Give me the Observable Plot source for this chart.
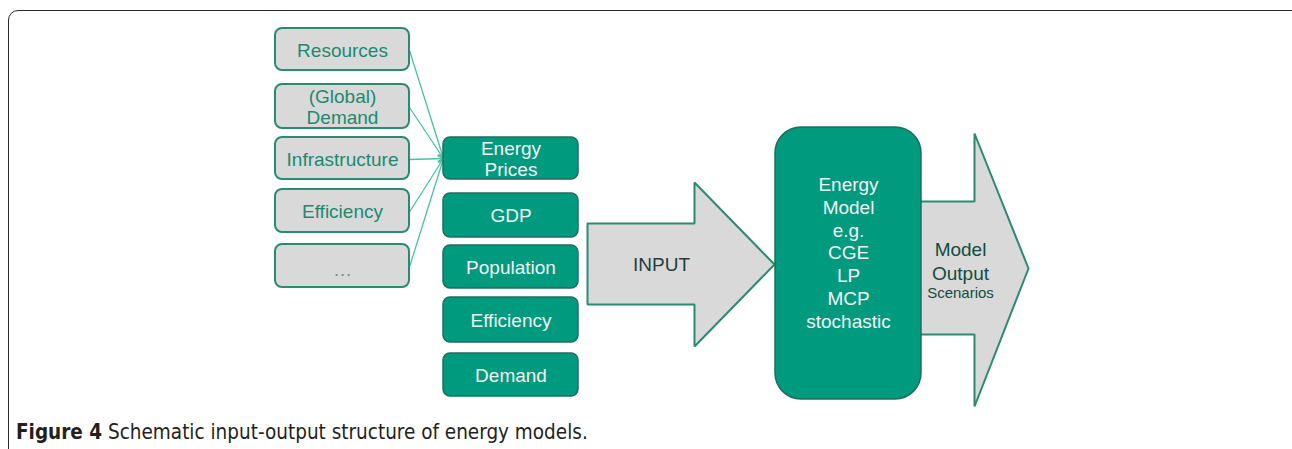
<!DOCTYPE html>
<html>
<head>
<meta charset="utf-8">
<script src="https://cdn.jsdelivr.net/npm/d3@7"></script>
<script src="https://cdn.jsdelivr.net/npm/@observablehq/plot@0.6"></script>
<style>
  html, body { margin: 0; padding: 0; background: #fff; overflow: hidden; width: 1292px; height: 449px; }
  #frame { position: absolute; left: 8px; top: 10px; width: 1400px; height: 600px;
           border: 1.6px solid #2b2b2b; border-radius: 10px; box-sizing: border-box; }
  #chart { position: absolute; left: 0; top: 0; }
  #caption { position: absolute; left: 16px; top: 421px; white-space: nowrap;
             font-family: "Liberation Sans Narrow", "DejaVu Sans Condensed", sans-serif;
             font-size: 20.5px; color: #231f20; line-height: 23px; }
  #caption b { font-weight: bold; }
</style>
</head>
<body>
<div id="frame"></div>
<div id="chart"></div>
<div id="caption"><b>Figure 4</b> Schematic input-output structure of energy models.</div>
<script>
// ---- Data (labels) ----
const inputFactors = ["Resources", "(Global)\nDemand", "Infrastructure", "Efficiency", "…"];
const inputVariables = ["Energy\nPrices", "GDP", "Population", "Efficiency", "Demand"];
const modelLabel = ["Energy", "Model", "e.g.", "CGE", "LP", "MCP", "stochastic"];
const inputArrowLabel = ["INPUT"];
const outputLabel = ["Model\nOutput"];
const outputSubLabel = ["Scenarios"];

// ---- Layout (diagram geometry in pixel units) ----
const factorX = [275, 409];
const factorY = [[28, 70], [84, 128], [137, 179], [189, 232], [244, 287]];
const variableX = [443, 578];
const variableY = [[137, 179], [193, 237], [245, 288], [297, 342], [353, 396]];
const modelBox = {x1: 775, x2: 921, y1: 127, y2: 399};
const inputArrowPts = [[587,223],[694,223],[694,182],[774,264],[694,346],[694,304],[587,304],[587,223]];
const outputArrowPts = [[905,201],[974,201],[974,133],[1028,268],[974,406],[974,334],[905,334],[905,201]];

const factors = inputFactors.map((label, i) => ({label, x1: factorX[0], x2: factorX[1], y1: factorY[i][0], y2: factorY[i][1]}));
const variables = inputVariables.map((label, i) => ({label, x1: variableX[0], x2: variableX[1], y1: variableY[i][0], y2: variableY[i][1]}));
const target = variables[0];
const links = factors.map(f => ({x1: f.x2, y1: (f.y1 + f.y2) / 2 + 1, x2: target.x1, y2: (target.y1 + target.y2) / 2}));
const polys = [
  ...inputArrowPts.map(([x, y]) => ({x, y, id: "in"})),
  ...outputArrowPts.map(([x, y]) => ({x, y, id: "out"}))
];

const grey = "#d9d9d9", green = "#009a7e", greenEdge = "#1f6e5e", teal = "#2b8a72";
const font = "'Liberation Sans', Arial, sans-serif";

const chart = Plot.plot({
  width: 1292,
  height: 449,
  margin: 0,
  x: {domain: [0, 1292], range: [0, 1292], axis: null},
  y: {domain: [0, 449], range: [0, 449], axis: null},
  style: {background: "transparent", fontFamily: font},
  marks: [
    // big arrows
    Plot.line(polys, {x: "x", y: "y", z: "id", fill: grey, stroke: teal, strokeWidth: 2, strokeLinejoin: "miter", curve: "linear"}),
    // model box
    Plot.rect([modelBox], {x1: "x1", x2: "x2", y1: "y1", y2: "y2", fill: green, stroke: greenEdge, strokeWidth: 1.5, rx: 26}),
    // link arrows
    Plot.arrow(links, {x1: "x1", y1: "y1", x2: "x2", y2: "y2", stroke: "#4cc0a5", strokeWidth: 1.3, headLength: 7}),
    // factor boxes
    Plot.rect(factors, {x1: "x1", x2: "x2", y1: "y1", y2: "y2", fill: grey, stroke: teal, strokeWidth: 2, rx: 7}),
    Plot.text(factors, {x: d => (d.x1 + d.x2) / 2, y: d => (d.y1 + d.y2) / 2 + (d.label === "…" ? 3 : 0), text: "label",
      fill: d => d.label === "…" ? "#5f9d8f" : "#1b8a70", fontSize: 19, lineHeight: 1.15}),
    // variable boxes
    Plot.rect(variables, {x1: "x1", x2: "x2", y1: "y1", y2: "y2", fill: green, stroke: greenEdge, strokeWidth: 1.5, rx: 7}),
    Plot.text(variables, {x: d => (d.x1 + d.x2) / 2, y: d => (d.y1 + d.y2) / 2, text: "label",
      fill: "#f4f4f4", fontSize: 19, lineHeight: 1.12}),
    // labels
    Plot.text(inputArrowLabel, {x: 661, y: 264, text: d => d, fill: "#1f3f3a", fontSize: 19}),
    Plot.text([modelLabel.join("\n")], {x: (modelBox.x1 + modelBox.x2) / 2, y: 251.5, text: d => d, fill: "#f4f4f4", fontSize: 19, lineHeight: 1.2}),
    Plot.text(outputLabel, {x: 960, y: 260, text: d => d, fill: "#124c40", fontSize: 19, lineHeight: 1.22}),
    Plot.text(outputSubLabel, {x: 960, y: 293, text: d => d, fill: "#124c40", fontSize: 15})
  ]
});
document.getElementById("chart").appendChild(chart);
</script>
</body>
</html>
